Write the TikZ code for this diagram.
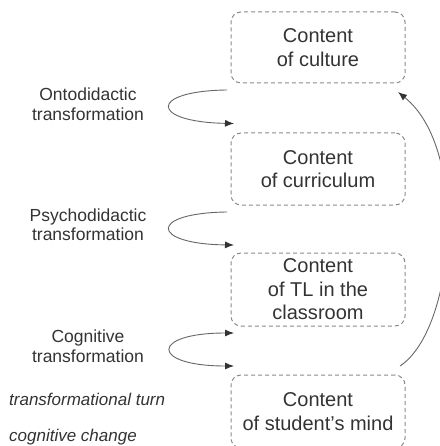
\documentclass[tikz,border=0pt]{standalone}
\usepackage{fontspec}
\setmainfont{Liberation Sans}
\usetikzlibrary{arrows.meta}
\definecolor{txt}{HTML}{333333}
\definecolor{ln}{HTML}{666666}
\definecolor{bx}{HTML}{8A8A8A}
\begin{document}
\begin{tikzpicture}[x=1bp,y=-1bp,
  cbox/.style={draw=bx,dash pattern=on 4bp off 3bp,line width=1bp,rounded corners=10bp,
    minimum width=174bp,align=center,text=txt,inner sep=0pt,
    font=\fontsize{20bp}{23.5bp}\selectfont},
  lbl/.style={align=center,text=txt,inner sep=0pt,font=\fontsize{17.5bp}{19.5bp}\selectfont},
  ilbl/.style={anchor=west,text=txt,inner sep=0pt,font=\fontsize{17bp}{19bp}\selectfont\itshape},
  conn/.style={draw=ln,line width=0.9bp,-{Latex[length=9bp,width=7bp,color=txt]}},
  bconn/.style={draw=ln,line width=0.9bp,{Latex[length=9bp,width=7bp,color=txt]}-{Latex[length=9bp,width=7bp,color=txt]}}]
\useasboundingbox (0,0) rectangle (440,446);
\clip (0,0) rectangle (440,446);
% boxes
\node[cbox,minimum height=71bp] (b1) at (318,47.5) {Content\\of culture};
\node[cbox,minimum height=72bp] (b2) at (318,169) {Content\\of curriculum};
\node[cbox,minimum height=73bp] (b3) at (318,289.5) {Content\\of TL in the\\classroom};
\node[cbox,minimum height=73bp] (b4) at (318,411.5) {Content\\of student’s mind};
% labels
\node[lbl] (l1) at (88,104) {Ontodidactic\\transformation};
\node[lbl] (l2) at (88,224.5) {Psychodidactic\\transformation};
\node[lbl] (l3) at (88,346) {Cognitive\\transformation};
\node[ilbl] (i1) at (9,399) {transformational turn};
\node[ilbl] (i2) at (9,437) {cognitive change};
% loop coordinates
\coordinate (s1) at (227,90);
\coordinate (t1) at (234,123.5);
\coordinate (s2) at (227,212);
\coordinate (t2) at (234,245);
\coordinate (s3) at (234,333);
\coordinate (t3) at (234,366);
\draw[conn] (s1) .. controls (148,91) and (150,122) .. (t1);
\draw[conn] (s2) .. controls (148,213) and (150,244) .. (t2);
\draw[bconn] (s3) .. controls (150,333) and (150,366) .. (t3);
% right arc
\coordinate (r0) at (400,366);
\coordinate (r1) at (398,92);
\draw[conn] (r0) .. controls (455,330) and (470,150) .. (r1);
\end{tikzpicture}
\end{document}
